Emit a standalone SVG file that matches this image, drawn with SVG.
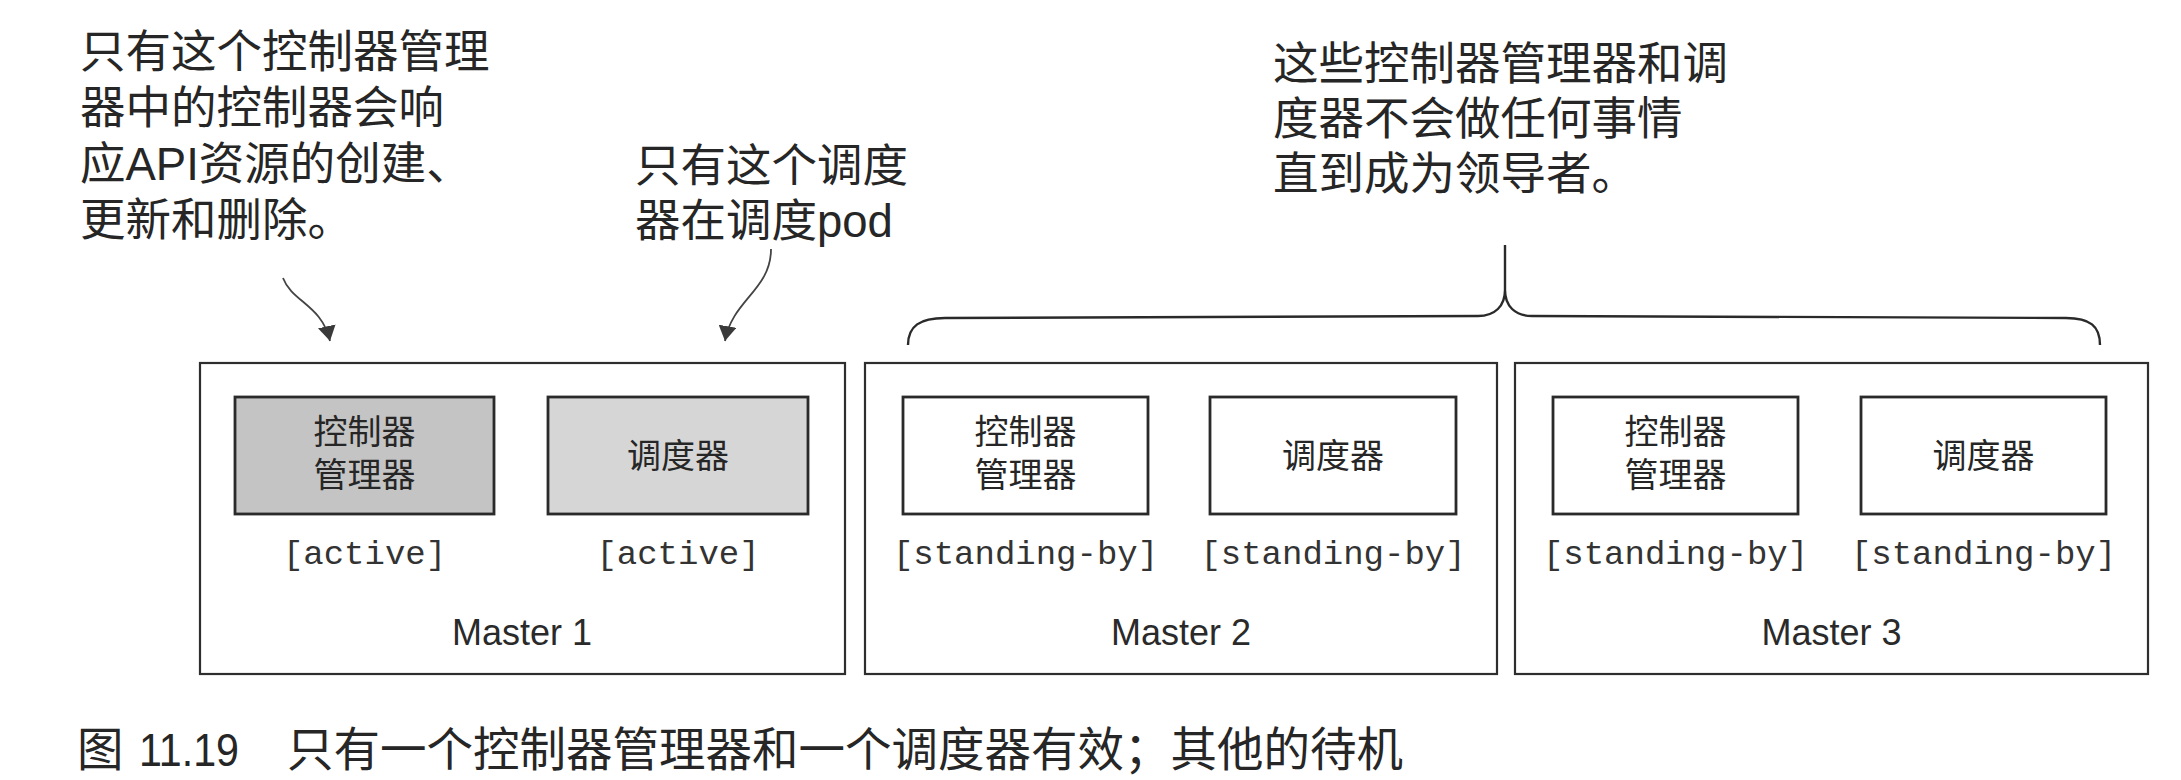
<svg xmlns="http://www.w3.org/2000/svg" width="2181" height="780" viewBox="0 0 2181 780">
<defs>
<style>
.master{fill:#ffffff;stroke:#2e2e2e;stroke-width:2.2}
.comp{stroke:#2a2a2a;stroke-width:2.8}
.active1{fill:#c4c4c4}
.active2{fill:#d6d6d6}
.idle{fill:#ffffff}
.cjk{font-family:"Liberation Sans","Noto Sans CJK SC",sans-serif;fill:#262626}
.ann{font-size:45.5px}
.cap{font-size:46.5px}
.box{font-size:34px;text-anchor:middle}
.mono{font-family:"Liberation Mono",monospace;font-size:34px;fill:#333;text-anchor:middle}
.mlabel{font-family:"Liberation Sans",sans-serif;font-size:36px;fill:#2a2a2a;text-anchor:middle}
.conn{fill:none;stroke:#444;stroke-width:1.8}
.brace{fill:none;stroke:#2a2a2a;stroke-width:2.4}
</style>
<marker id="ah" markerUnits="userSpaceOnUse" markerWidth="18" markerHeight="18" refX="15" refY="9" orient="auto" viewBox="0 0 18 18">
<path d="M0,0 L15,9 L0,18 z" fill="#3a3a3a"/>
</marker>
</defs>
<rect width="2181" height="780" fill="#ffffff"/>

<g id="note-controller">
<text class="cjk ann" x="80" y="68">只有这个控制器管理</text>
<text class="cjk ann" x="80" y="124">器中的控制器会响</text>
<text class="cjk ann" x="80" y="180">应API资源的创建、</text>
<text class="cjk ann" x="80" y="236">更新和删除。</text>
</g>
<g id="note-scheduler">
<text class="cjk ann" x="635" y="182">只有这个调度</text>
<text class="cjk ann" x="635" y="237">器在调度pod</text>
</g>
<g id="note-standby">
<text class="cjk ann" x="1273" y="80">这些控制器管理器和调</text>
<text class="cjk ann" x="1273" y="135">度器不会做任何事情</text>
<text class="cjk ann" x="1273" y="190">直到成为领导者。</text>
</g>

<g id="master1">
<rect class="master" x="200" y="363" width="645" height="311"/>
<g id="m1-controller-manager">
<rect class="comp active1" x="235" y="397" width="259" height="117"/>
<text class="cjk box" x="364.5" y="444">控制器</text>
<text class="cjk box" x="364.5" y="487">管理器</text>
<text class="mono" x="364.5" y="564">[active]</text>
</g>
<g id="m1-scheduler">
<rect class="comp active2" x="548" y="397" width="260" height="117"/>
<text class="cjk box" x="678" y="468">调度器</text>
<text class="mono" x="678" y="564">[active]</text>
</g>
<text class="mlabel" x="522" y="645">Master 1</text>
</g>

<g id="master2">
<rect class="master" x="865" y="363" width="632" height="311"/>
<g id="m2-controller-manager">
<rect class="comp idle" x="903" y="397" width="245" height="117"/>
<text class="cjk box" x="1025.5" y="444">控制器</text>
<text class="cjk box" x="1025.5" y="487">管理器</text>
<text class="mono" x="1025.5" y="564">[standing-by]</text>
</g>
<g id="m2-scheduler">
<rect class="comp idle" x="1210" y="397" width="246" height="117"/>
<text class="cjk box" x="1333" y="468">调度器</text>
<text class="mono" x="1333" y="564">[standing-by]</text>
</g>
<text class="mlabel" x="1181" y="645">Master 2</text>
</g>

<g id="master3">
<rect class="master" x="1515" y="363" width="633" height="311"/>
<g id="m3-controller-manager">
<rect class="comp idle" x="1553" y="397" width="245" height="117"/>
<text class="cjk box" x="1675.5" y="444">控制器</text>
<text class="cjk box" x="1675.5" y="487">管理器</text>
<text class="mono" x="1675.5" y="564">[standing-by]</text>
</g>
<g id="m3-scheduler">
<rect class="comp idle" x="1861" y="397" width="245" height="117"/>
<text class="cjk box" x="1983.5" y="468">调度器</text>
<text class="mono" x="1983.5" y="564">[standing-by]</text>
</g>
<text class="mlabel" x="1831.5" y="645">Master 3</text>
</g>

<g id="connectors">
<path class="conn" d="M283,278 C292,302 322,305 330,341" marker-end="url(#ah)"/>
<path class="conn" d="M771,249 C771,290 732,300 725,341" marker-end="url(#ah)"/>
<path class="brace" d="M908,345 C908,326 920,318 945,318 L1478,316 C1495,316 1505,306 1505,290 L1505,245 M1505,290 C1505,306 1515,316 1532,316 L2066,318 C2090,318 2100,326 2100,345"/>
</g>

<g id="caption">
<text class="cjk cap" y="766"><tspan x="77">图</tspan><tspan x="139" textLength="100" lengthAdjust="spacingAndGlyphs">11.19</tspan><tspan x="287">只有一个控制器管理器和一个调度器有效；其他的待机</tspan></text>
</g>
</svg>
